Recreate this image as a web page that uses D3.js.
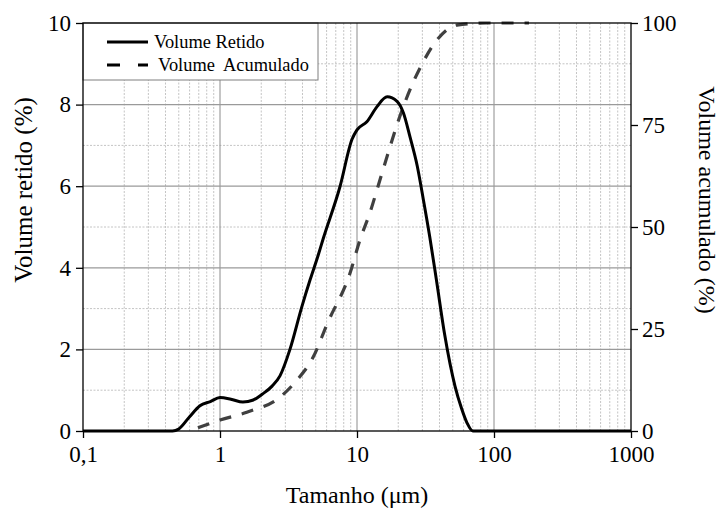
<!DOCTYPE html>
<html>
<head>
<meta charset="utf-8">
<script src="https://cdn.jsdelivr.net/npm/d3@7"></script>
<style>
body { margin: 0; background: #fff; }
svg text { font-family: "Liberation Serif", "Times New Roman", serif; fill: #000; }
.axis .domain { display: none; }
.axis line { stroke: #000; stroke-width: 1.3; }
.axis text { font-size: 23px; }
</style>
</head>
<body>
<svg class="chart"></svg>
<script>
// curve data (size in um)
var sizeRetido = [0.1, 0.45, 0.5, 0.6, 0.714, 0.85, 1.0, 1.2, 1.47, 1.75, 2.03, 2.4, 2.74, 3.24, 3.96, 4.54, 5.2, 5.65, 7.5, 9.2, 10, 11.8, 14, 16.6, 19.6, 21.8, 24.4, 27.5, 30.4, 34, 38, 43.7, 51.9, 58, 63.5, 70, 1000];
var volRetido  = [0, 0, 0.05, 0.35, 0.62, 0.72, 0.82, 0.78, 0.71, 0.76, 0.9, 1.1, 1.35, 2.0, 3.05, 3.7, 4.3, 4.7, 5.98, 7.15, 7.38, 7.58, 7.95, 8.19, 8.08, 7.8, 7.2, 6.5, 5.7, 4.75, 3.7, 2.35, 1.1, 0.55, 0.2, 0, 0];

var sizeAcum = [0.69, 1.0, 1.57, 2.74, 3.65, 4.77, 6.1, 8.9, 10.5, 12.4, 14.7, 17.4, 20.5, 25.2, 29.9, 38.2, 53.7, 89, 180];
var volAcum  = [0.8, 2.7, 4.6, 8.3, 12.5, 18, 26.5, 38.7, 46.8, 53.4, 61.5, 69.6, 77, 84.8, 90, 95.8, 99.5, 100, 100];

var xTicks = [0.1, 1, 10, 100, 1000],
    xTickLabels = ["0,1", "1", "10", "100", "1000"];
var yLeftTicks = [0, 2, 4, 6, 8, 10],
    yRightTicks = [0, 25, 50, 75, 100];
var legendLabels = ["Volume Retido", "Volume  Acumulado"];

var margin = {top: 23, right: 90, bottom: 77, left: 83},
    width = 721 - margin.left - margin.right,
    height = 508 - margin.top - margin.bottom;

var chart = d3.select('.chart')
    .attr('width', 721)
    .attr('height', 508);

var x = d3.scaleLog().domain([0.1, 1000]).range([0, width]),
    y = d3.scaleLinear().domain([0, 10]).range([height, 0]),
    y2 = d3.scaleLinear().domain([0, 100]).range([height, 0]);

var g = chart.append('g')
    .attr('transform', 'translate(' + margin.left + ',' + margin.top + ')');

// gridlines
var minorX = [];
[0.1, 1, 10, 100].forEach(function(d) {
  for (var k = 2; k <= 9; k++) minorX.push(d * k);
});
g.selectAll('.vminor').data(minorX).enter().append('line')
    .attr('x1', function(d) { return x(d); }).attr('x2', function(d) { return x(d); })
    .attr('y1', 0).attr('y2', height)
    .attr('stroke', '#c4c4c4').attr('stroke-width', 1).attr('stroke-dasharray', '2,1.5');
g.selectAll('.hminor').data([1, 3, 5, 7, 9]).enter().append('line')
    .attr('x1', 0).attr('x2', width)
    .attr('y1', function(d) { return y(d); }).attr('y2', function(d) { return y(d); })
    .attr('stroke', '#c4c4c4').attr('stroke-width', 1).attr('stroke-dasharray', '2,1.5');
g.selectAll('.vmajor').data([1, 10, 100]).enter().append('line')
    .attr('x1', function(d) { return x(d); }).attr('x2', function(d) { return x(d); })
    .attr('y1', 0).attr('y2', height)
    .attr('stroke', '#8c8c8c').attr('stroke-width', 1);
g.selectAll('.hmajor').data([2, 4, 6, 8]).enter().append('line')
    .attr('x1', 0).attr('x2', width)
    .attr('y1', function(d) { return y(d); }).attr('y2', function(d) { return y(d); })
    .attr('stroke', '#9a9a9a').attr('stroke-width', 1.3);

// legend box
var leg = g.append('g');
leg.append('rect')
    .attr('x', 0).attr('y', 0)
    .attr('width', 235).attr('height', 57)
    .attr('fill', '#fff').attr('stroke', '#7f7f7f').attr('stroke-width', 1);

// curves
var lineR = d3.line()
    .x(function(d, i) { return x(sizeRetido[i]); })
    .y(function(d) { return y(d); })
    .curve(d3.curveMonotoneX);
var lineA = d3.line()
    .x(function(d, i) { return x(sizeAcum[i]); })
    .y(function(d) { return y2(d); })
    .curve(d3.curveMonotoneX);

g.append('path').datum(volAcum)
    .attr('d', lineA)
    .attr('fill', 'none').attr('stroke', '#404040')
    .attr('stroke-width', 3.2).attr('stroke-dasharray', '12,11');

// frame
g.append('rect')
    .attr('width', width).attr('height', height)
    .attr('fill', 'none').attr('stroke', '#000').attr('stroke-width', 1.3);

g.append('path').datum(volRetido)
    .attr('d', lineR)
    .attr('fill', 'none').attr('stroke', '#000')
    .attr('stroke-width', 3);

// axes
g.append('g').attr('class', 'axis')
    .attr('transform', 'translate(0,' + height + ')')
    .call(d3.axisBottom(x).tickValues(xTicks).tickSize(7).tickPadding(8)
      .tickFormat(function(d, i) { return xTickLabels[i]; }));

g.append('g').attr('class', 'axis')
    .call(d3.axisLeft(y).tickValues(yLeftTicks).tickSize(7).tickPadding(5));

g.append('g').attr('class', 'axis')
    .attr('transform', 'translate(' + width + ',0)')
    .call(d3.axisRight(y2).tickValues(yRightTicks).tickSize(7).tickPadding(4));

// legend items
legendLabels.forEach(function(t, i) {
  var ly = 19 + i * 23;
  leg.append('line')
      .attr('x1', 24).attr('x2', 65).attr('y1', ly).attr('y2', ly)
      .attr('stroke', '#000').attr('stroke-width', 3)
      .attr('stroke-dasharray', i ? '13,18' : null);
  leg.append('text')
      .attr('x', i ? 75 : 71).attr('y', ly + 6)
      .style('font-size', '18.4px')
      .style('white-space', 'pre')
      .text(t);
});

// axis titles
chart.append('text')
    .attr('x', margin.left + width / 2).attr('y', 503)
    .attr('text-anchor', 'middle')
    .style('font-size', '24px')
    .text('Tamanho (\u03bcm)');

chart.append('text')
    .attr('transform', 'translate(32,190) rotate(-90)')
    .attr('text-anchor', 'middle')
    .style('font-size', '25px')
    .text('Volume retido (%)');

chart.append('text')
    .attr('transform', 'translate(699,200) rotate(90)')
    .attr('text-anchor', 'middle')
    .style('font-size', '24px')
    .text('Volume acumulado (%)');
</script>
</body>
</html>
